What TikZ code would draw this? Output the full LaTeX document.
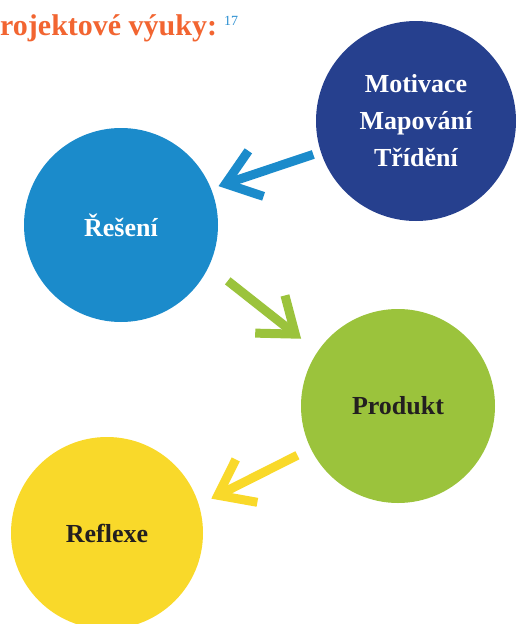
\documentclass[tikz,border=0pt]{standalone}
\usepackage{fontspec}
\setmainfont{Liberation Serif}
\usetikzlibrary{arrows.meta}
\definecolor{titleorange}{HTML}{F26531}
\definecolor{notenum}{HTML}{2B8FD1}
\definecolor{darkblue}{HTML}{26408E}
\definecolor{lightblue}{HTML}{1B8BCB}
\definecolor{leafgreen}{HTML}{9BC33C}
\definecolor{sunyellow}{HTML}{F9D92A}
\definecolor{inkgray}{HTML}{231F20}
\tikzset{
  phase/.style={circle, minimum size=194pt, inner sep=0pt, outer sep=0pt,
    font=\fontsize{26}{37}\selectfont\bfseries, align=center},
  flow/.style={line width=9pt, -{Straight Barb[length=32pt,width=48pt]}},
}
\begin{document}
\begin{tikzpicture}[x=1pt,y=-1pt]
    \useasboundingbox (0,0) rectangle (519,624);
    \node[anchor=base west, inner sep=0pt, text=titleorange, font=\fontsize{30}{32}\selectfont\bfseries] (title) at (0,35) {rojektové výuky:};
    \node[anchor=base west, inner sep=0pt, text=notenum, font=\fontsize{14}{16}\selectfont] (note) at (224,25) {17};
    \node[phase, fill=darkblue, text=white, minimum size=200pt] (mot) at (416,121) {Motivace\\Mapování\\Třídění};
    \node[phase, fill=lightblue, text=white] (res) at (121,225) {Řešení};
    \node[phase, fill=leafgreen, text=inkgray] (prod) at (398,406) {Produkt};
    \node[phase, fill=sunyellow, text=inkgray, minimum size=192pt] (refl) at (107,533) {Reflexe};
    \draw[flow, lightblue, shorten <=8pt, shorten >=8pt] (mot.198) -- (res.22);
    \draw[flow, leafgreen, shorten <=24pt, shorten >=21pt] (res.-25) -- (prod.146);
    \draw[flow, sunyellow, shorten <=15pt, shorten >=14pt] (prod.206) -- (refl.17);
\end{tikzpicture}
\end{document}
